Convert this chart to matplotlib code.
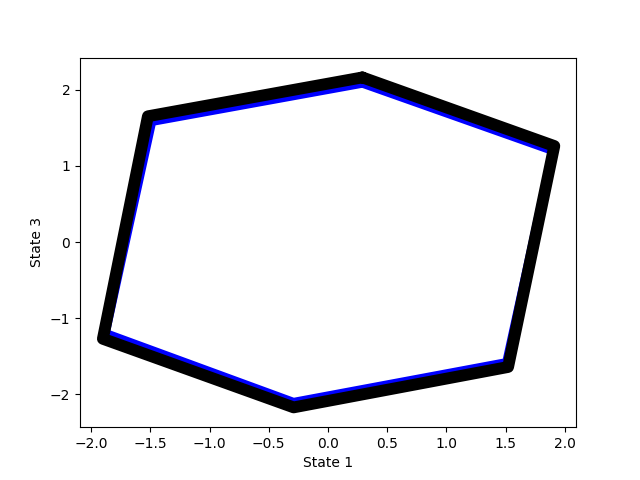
import numpy as np
import matplotlib
matplotlib.use('Agg')
import matplotlib.pyplot as plt

# corner points of the three traces (State 1, State 3), loop closed
red_x = [0.29, 1.91, 1.52, -0.29, -1.90, -1.52, 0.29]
red_y = [2.18, 1.28, -1.66, -2.20, -1.28, 1.67, 2.18]
black_x = [0.29, 1.91, 1.52, -0.29, -1.90, -1.52, 0.29]
black_y = [2.16, 1.26, -1.64, -2.17, -1.27, 1.65, 2.16]
blue_x = [0.29, 1.89, 1.50, -0.29, -1.87, -1.48, 0.29]
blue_y = [2.07, 1.19, -1.57, -2.09, -1.19, 1.57, 2.07]

fig = plt.figure(figsize=(6.4, 4.8), dpi=100)
ax = fig.add_subplot(111)
ax.plot(red_x, red_y, color='red', lw=1)
ax.plot(blue_x, blue_y, color='blue', lw=5, solid_capstyle='round')
ax.plot(black_x, black_y, color='black', lw=8.5, solid_capstyle='round')
ax.set_xlim(-2.093, 2.093)
ax.set_ylim(-2.43, 2.42)
ax.set_xlabel('State 1')
ax.set_ylabel('State 3')
fig.savefig('out.png')
